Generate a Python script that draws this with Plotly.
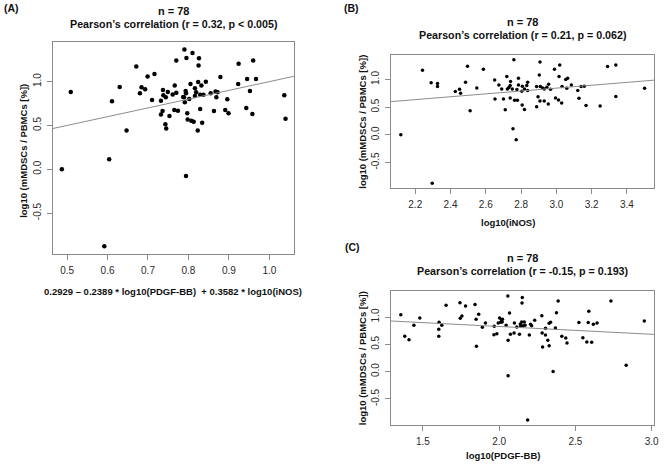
import plotly.graph_objects as go

# ---------------- data ----------------
# Panel A: fitted combination (x) vs log10(mMDSCs / PBMCs [%]) (y)
a_x = [0.487, 0.509, 0.592, 0.604, 0.611, 0.630, 0.647, 0.671, 0.790, 0.810,
       0.795, 0.826, 0.960, 0.945, 0.967, 0.952, 1.037, 0.943, 0.958, 1.040,
       0.794,
       0.770, 0.825, 0.699, 0.716, 0.879, 0.924, 0.923, 0.684, 0.693, 0.680,
       0.737, 0.749, 0.766, 0.738, 0.761, 0.770, 0.793, 0.794, 0.805, 0.816,
       0.819, 0.824, 0.832, 0.843, 0.816, 0.829, 0.837, 0.855, 0.867, 0.872,
       0.710, 0.732, 0.744, 0.789, 0.802, 0.791, 0.869, 0.896, 0.736, 0.732,
       0.753, 0.765, 0.774, 0.797, 0.829, 0.863, 0.891, 0.899, 0.798, 0.807,
       0.813, 0.834, 0.743, 0.745, 0.823, 0.787]
a_y = [0.000, 0.882, -0.878, 0.115, 0.775, 0.939, 0.443, 1.172, 1.366, 1.328,
       1.271, 1.267, 1.240, 1.031, 1.031, 0.893, 0.844, 0.698, 0.630, 0.576,
       -0.076,
       1.241, 1.184, 1.058, 1.088, 1.054, 1.203, 0.974, 0.935, 0.913, 0.867,
       0.905, 0.882, 0.955, 0.844, 0.852, 0.874, 0.893, 0.867, 0.974, 0.924,
       0.878, 0.997, 0.955, 0.999, 0.836, 0.851, 0.851, 0.867, 0.886, 0.878,
       0.790, 0.783, 0.821, 0.821, 0.802, 0.764, 0.821, 0.798, 0.664, 0.626,
       0.607, 0.676, 0.668, 0.638, 0.687, 0.664, 0.676, 0.638, 0.569, 0.554,
       0.542, 0.531, 0.512, 0.466, 0.443, 0.824]

# Panel B: log10(iNOS) vs log10(mMDSCs / PBMCs [%])
b_x = [2.118, 2.241, 2.290, 2.296, 2.326, 2.326, 2.427, 2.451, 2.457, 2.485,
       2.496, 2.511, 2.549, 2.586, 2.772, 3.121, 3.128, 3.140, 3.158, 3.168,
       3.248, 3.290, 3.337, 3.337, 3.500,
       2.759, 2.907, 3.019, 2.989, 2.650, 2.719, 2.740, 2.785, 2.903, 3.015,
       3.053, 3.064, 2.674, 2.690, 2.722, 2.731, 2.738, 2.750, 2.776, 2.785,
       2.807, 2.819, 2.832, 2.837, 2.837, 2.804, 2.888, 2.909, 2.922, 2.931,
       2.946, 2.956, 2.967, 3.032, 3.059, 3.085, 2.652, 2.700, 2.738, 2.763,
       2.779, 2.710, 2.806, 2.819, 2.896, 2.907, 2.931, 2.954, 2.888, 2.995,
       3.012, 3.030, 2.754]
b_y = [0.000, 1.167, 0.939, -0.878, 0.927, 0.872, 0.782, 0.824, 0.752, 0.951,
       1.240, 0.433, 0.848, 1.185, -0.090, 0.800, 0.662, 0.872, 0.878, 0.529,
       0.523, 1.233, 1.264, 0.692, 0.842,
       1.359, 1.317, 1.260, 1.186, 0.992, 1.052, 0.962, 1.022, 1.082, 1.052,
       0.998, 1.022, 0.902, 0.830, 0.830, 0.854, 0.890, 0.830, 0.817, 0.902,
       0.878, 0.830, 0.890, 0.950, 0.800, 0.788, 0.872, 0.872, 0.848, 0.830,
       0.860, 0.914, 0.824, 0.872, 0.842, 0.902, 0.649, 0.649, 0.667, 0.625,
       0.625, 0.451, 0.541, 0.457, 0.686, 0.613, 0.613, 0.559, 0.505, 0.667,
       0.631, 0.577, 0.108]

# Panel C: log10(PDGF-BB) vs log10(mMDSCs / PBMCs [%])
c_x = [1.355, 1.381, 1.409, 1.441, 1.480, 1.606, 1.604, 1.604, 1.624, 1.652,
       1.743, 1.745, 1.756, 1.780, 1.842, 1.849, 1.851, 1.866, 1.890, 1.910,
       1.966, 1.968, 1.985, 1.994, 2.003, 2.009, 2.016, 2.020, 2.022, 2.046,
       2.057, 2.059, 2.059, 2.068, 2.074,
       2.100, 2.098, 2.116, 2.133, 2.139, 2.148, 2.152, 2.150, 2.157, 2.165,
       2.170, 2.141, 2.198, 2.187, 2.206, 2.213, 2.233, 2.280, 2.282, 2.285,
       2.304, 2.304, 2.319, 2.328, 2.328, 2.337, 2.354, 2.369, 2.376, 2.387,
       2.411, 2.437, 2.445, 2.523, 2.549, 2.575, 2.584, 2.588, 2.607, 2.618,
       2.642, 2.733, 2.833, 2.952]
c_y = [1.043, 0.647, 0.585, 0.848, 0.982, 0.903, 0.775, 0.647, 0.848, 1.214,
       1.263, 0.976, 1.019, 1.202, 1.227, 0.958, 0.463, 1.049, 0.811, 0.891,
       0.677, 0.829, 0.695, 0.891, 0.982, 0.903, 0.951, 0.909, 0.958, 0.848,
       1.385, 0.573, -0.074, 1.074, 0.683,
       0.891, 0.708, 0.818, 0.683, 0.872, 0.909, 1.355, 1.257, 0.842, 0.909,
       0.848, 0.842, 0.671, -0.886, 0.866, 0.842, 0.939, 1.025, 0.708, 0.451,
       0.793, 0.671, 0.573, 0.475, 0.884, 0.903, 0.004, 0.799, 1.080, 1.293,
       0.647, 0.616, 0.524, 0.897, 0.622, 0.543, 0.897, 1.104, 0.537, 0.866,
       0.891, 1.293, 0.115, 0.927]

# regression lines (intercept, slope) as drawn in the figure
fit_a = [0.0, 1.0]
fit_b = [0.064, 0.26]
fit_c = [1.110, -0.142]

# tick labels
a_xticks = [0.5, 0.6, 0.7, 0.8, 0.9, 1.0]
a_xlabels = ["0.5", "0.6", "0.7", "0.8", "0.9", "1.0"]
b_xticks = [2.2, 2.4, 2.6, 2.8, 3.0, 3.2, 3.4]
b_xlabels = ["2.2", "2.4", "2.6", "2.8", "3.0", "3.2", "3.4"]
c_xticks = [1.5, 2.0, 2.5, 3.0]
c_xlabels = ["1.5", "2.0", "2.5", "3.0"]
y_ticks = [-0.5, 0.0, 0.5, 1.0]
y_labels = ["-0.5", "0.0", "0.5", "1.0"]

panel_labels = ["(A)", "(B)", "(C)"]
n_text = "n = 78"
titles = ["Pearson\u2019s correlation (r = 0.32, p < 0.005)",
          "Pearson\u2019s correlation (r = 0.21, p = 0.062)",
          "Pearson\u2019s correlation (r = -0.15, p = 0.193)"]
x_titles = ["0.2929 \u2013 0.2389 * log10(PDGF-BB) \u00a0+ 0.3582 * log10(iNOS)",
            "log10(iNOS)", "log10(PDGF-BB)"]
y_title = "log10 (mMDSCs / PBMCs [%])"

# ---------------- layout helpers ----------------
W, H = 666, 464
FONT = "Liberation Sans, Arial, sans-serif"


def r_range(v):
    lo, hi = min(v), max(v)
    d = hi - lo
    return [lo - 0.04 * d, hi + 0.04 * d]


def px(x):
    return x / W


def py(y):
    return 1 - y / H


fig = go.Figure()

panels = [
    dict(xs=a_x, ys=a_y, fit=fit_a, xt=a_xticks, xl=a_xlabels, size=4.5,
         box=(53.3, 296.7, 41.7, 254.0), ax="x", ay="y"),
    dict(xs=b_x, ys=b_y, fit=fit_b, xt=b_xticks, xl=b_xlabels, size=3.5,
         box=(394.0, 659.3, 54.7, 188.3), ax="x2", ay="y2"),
    dict(xs=c_x, ys=c_y, fit=fit_c, xt=c_xticks, xl=c_xlabels, size=3.5,
         box=(394.0, 659.0, 291.0, 425.0), ax="x3", ay="y3"),
]

axis_common = dict(showline=True, mirror=True, linecolor="#8a8a8a", linewidth=1,
                   ticks="outside", ticklen=5, tickcolor="#8a8a8a", tickwidth=1,
                   showgrid=False, zeroline=False, ticklabeloverflow="allow",
                   tickfont=dict(family=FONT, size=10, color="#2a2a2a"))

for i, p in enumerate(panels):
    xr = r_range(p["xs"])
    yr = r_range(p["ys"])
    fig.add_trace(go.Scatter(x=p["xs"], y=p["ys"], mode="markers",
                             marker=dict(color="black", size=p["size"]),
                             xaxis=p["ax"], yaxis=p["ay"], showlegend=False))
    b0, b1 = p["fit"]
    fig.add_trace(go.Scatter(x=xr, y=[b0 + b1 * xr[0], b0 + b1 * xr[1]],
                             mode="lines", line=dict(color="#8c8c8c", width=1),
                             xaxis=p["ax"], yaxis=p["ay"], showlegend=False))
    l, r, t, b = p["box"]
    xkey = "xaxis" if i == 0 else f"xaxis{i+1}"
    ykey = "yaxis" if i == 0 else f"yaxis{i+1}"
    fig.layout[xkey] = dict(axis_common, domain=[px(l), px(r)], range=xr,
                            tickvals=p["xt"], ticktext=p["xl"],
                            anchor=p["ay"], ticklabelstandoff=2)
    fig.layout[ykey] = dict(axis_common, domain=[py(b), py(t)], range=yr,
                            tickvals=y_ticks, ticktext=y_labels,
                            anchor=p["ax"], tickangle=-90, ticklabelstandoff=2)

ann = []


def add_text(x, y, text, size, bold=True, angle=0):
    ann.append(dict(x=px(x), y=py(y), xref="paper", yref="paper",
                    text=f"<b>{text}</b>" if bold else text, showarrow=False,
                    xanchor="center", yanchor="middle", textangle=angle,
                    font=dict(family=FONT, size=size, color="#111111")))


# panel letters
add_text(12, 8, panel_labels[0], 10.5)
add_text(354, 8, panel_labels[1], 10.5)
add_text(355, 247, panel_labels[2], 10.5)

# titles
title_pos = [(175, 11, 24), (526.7, 22, 34.5), (526.7, 258.3, 271)]
for (cx, y1, y2), t in zip(title_pos, titles):
    add_text(cx, y1, n_text, 11)
    add_text(cx, y2, t, 10.7)

# axis titles
add_text(174, 291, x_titles[0], 9.5)
add_text(512, 222, x_titles[1], 9.5)
add_text(507, 455, x_titles[2], 9.5)
add_text(23, 151, y_title, 9.5, angle=-90)
add_text(365, 121.5, y_title, 9.5, angle=-90)
add_text(365, 358, y_title, 9.5, angle=-90)

fig.update_layout(width=W, height=H, margin=dict(l=0, r=0, t=0, b=0),
                  paper_bgcolor="white", plot_bgcolor="white",
                  annotations=ann, showlegend=False)

fig.write_html("out.html",
               config={"displayModeBar": False},
               post_script="document.body.style.margin='0';"
                           "document.body.style.overflow='hidden';")
